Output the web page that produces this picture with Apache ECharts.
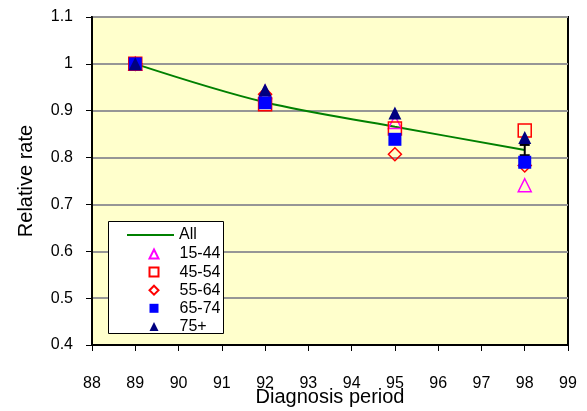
<!DOCTYPE html>
<html><head><meta charset="utf-8">
<script src="https://cdn.jsdelivr.net/npm/echarts@6/dist/echarts.min.js"></script>
<style>html,body{margin:0;padding:0;background:#fff}#c{width:587px;height:411px}</style>
</head><body><div id="c"></div>
<script>
const periods = [89, 92, 95, 98];
const allRate = [1.0, 0.918, 0.866, 0.816];
const allErrLow = [null, null, null, 0.805];
const allErrHigh = [null, null, null, 0.827];
const age1544 = [1.0, 0.94, 0.876, 0.741];
const age4554 = [1.0, 0.914, 0.862, 0.858];
const age5564 = [1.0, 0.935, 0.807, 0.783];
const age6574 = [1.0, 0.917, 0.839, 0.79];
const age75p = [1.0, 0.945, 0.895, 0.843];
const xTicks = {min: 88, max: 99, step: 1};
const yTicks = {min: 0.4, max: 1.1, step: 0.1};

const pts = arr => periods.map((p, i) => [p, arr[i]]);
const errData = periods.map((p, i) => [p, allErrLow[i], allErrHigh[i]]).filter(d => d[1] != null);

const F = 'Liberation Sans, Arial, sans-serif';
const chart = echarts.init(document.getElementById('c'), null, {renderer: 'canvas'});

function sc(name, symbol, fill, stroke, data, z) {
  return {
    name, type: 'scatter', data, symbol, symbolSize: 13, z,
    itemStyle: {color: fill, borderColor: stroke, borderWidth: fill === 'transparent' ? 1.5 : 0, opacity: 1}
  };
}

chart.setOption({
  animation: false,
  backgroundColor: '#ffffff',
  grid: {left: 92, right: 19, top: 17, bottom: 66, show: true, backgroundColor: '#FFFFCC', borderColor: '#000', borderWidth: 2,
         containLabel: false, outerBoundsMode: 'none'},
  xAxis: {
    type: 'value', min: xTicks.min, max: xTicks.max, interval: xTicks.step,
    name: 'Diagnosis period', nameLocation: 'middle', nameGap: 42, nameMoveOverlap: false,
    nameTextStyle: {fontFamily: F, fontSize: 20, color: '#000'},
    axisLine: {lineStyle: {color: '#000', width: 2}},
    axisTick: {show: true, inside: false, length: 6, lineStyle: {color: '#000', width: 1}},
    axisLabel: {fontFamily: F, fontSize: 16, color: '#000', margin: 31},
    splitLine: {show: false}
  },
  yAxis: {
    type: 'value', min: yTicks.min, max: yTicks.max, interval: yTicks.step,
    name: 'Relative rate', nameLocation: 'middle', nameGap: 56, nameMoveOverlap: false,
    nameTextStyle: {fontFamily: F, fontSize: 20, color: '#000'},
    axisLine: {show: true, lineStyle: {color: '#000', width: 2}},
    axisTick: {show: true, inside: false, length: 6, lineStyle: {color: '#000', width: 1}},
    axisLabel: {fontFamily: F, fontSize: 16, color: '#000', margin: 19,
      formatter: v => String(Math.round(v * 10) / 10)},
    splitLine: {show: true, lineStyle: {color: '#969696', width: 2}}
  },
  graphic: [{type: 'rect', left: 108, top: 221, shape: {width: 115, height: 112},
    style: {fill: '#fff', stroke: '#000', lineWidth: 1}, z: 5}],
  legend: [
    {data: [{name: 'All', icon: 'rect', itemStyle: {color: '#008000'}}], left: 122, top: 222, orient: 'vertical',
     itemWidth: 47, itemHeight: 2, z: 10,
     textStyle: {fontFamily: F, fontSize: 16, color: '#000', lineHeight: 16}},
    {data: ['15-44', '45-54', '55-64', '65-74', '75+'], left: 143.5, top: 241, orient: 'vertical',
     itemWidth: 9, itemHeight: 9, itemGap: 2.1, z: 10,
     textStyle: {fontFamily: F, fontSize: 16, color: '#000', lineHeight: 16, padding: [0, 0, 0, 16]}}
  ],
  series: [
    {name: 'All', type: 'line', data: pts(allRate), smooth: 0.35, symbol: 'none',
     lineStyle: {color: '#008000', width: 2}, itemStyle: {color: '#008000'}, z: 2},
    {name: 'err', type: 'custom', data: errData, z: 3,
     renderItem: (params, api) => {
       const top = api.coord([api.value(0), api.value(2)]);
       const bot = api.coord([api.value(0), api.value(1)]);
       const w = 5;
       const s = {stroke: '#000', lineWidth: 2};
       return {type: 'group', children: [
         {type: 'line', shape: {x1: top[0], y1: top[1], x2: bot[0], y2: bot[1]}, style: s},
         {type: 'line', shape: {x1: top[0] - w, y1: top[1], x2: top[0] + w, y2: top[1]}, style: s},
         {type: 'line', shape: {x1: bot[0] - w, y1: bot[1], x2: bot[0] + w, y2: bot[1]}, style: s}
       ]};
     }},
    sc('15-44', 'triangle', 'transparent', '#FF00FF', pts(age1544), 4),
    sc('45-54', 'rect', 'transparent', '#FF0000', pts(age4554), 5),
    sc('55-64', 'diamond', 'transparent', '#FF0000', pts(age5564), 6),
    sc('65-74', 'rect', '#0000FF', '#0000FF', pts(age6574), 7),
    sc('75+', 'triangle', '#000080', '#000080', pts(age75p), 8)
  ]
});
</script></body></html>
